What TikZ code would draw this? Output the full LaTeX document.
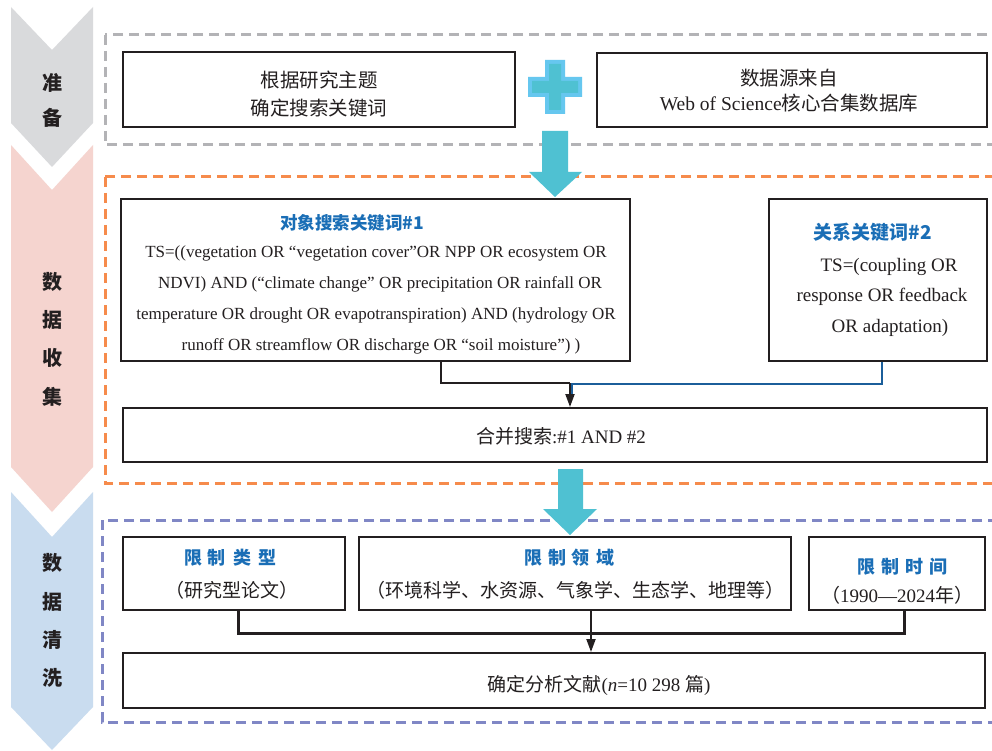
\documentclass[tikz,border=0pt]{standalone}
\usepackage{fontspec}
\setmainfont{Liberation Serif}
\newfontfamily\cjk{Noto Sans CJK SC}
\usetikzlibrary{arrows.meta}
\definecolor{chgray}{HTML}{D9DADC}
\definecolor{chpink}{HTML}{F5D4CF}
\definecolor{chblue}{HTML}{C9DCEF}
\definecolor{frgray}{HTML}{B3B3B6}
\definecolor{frorange}{HTML}{F68B4C}
\definecolor{frpurple}{HTML}{8087C5}
\definecolor{ink}{HTML}{231F20}
\definecolor{ttl}{HTML}{1A6EB6}
\definecolor{teal}{HTML}{4FC1D2}
\definecolor{lblue}{HTML}{66C7EF}
\definecolor{dblue}{HTML}{1B5E9A}
\begin{document}
\begin{tikzpicture}[x=1pt,y=-1pt,
  box/.style={draw=ink,line width=2pt,fill=white,inner sep=0pt},
  frame/.style={line width=3pt,dash pattern=on 10pt off 6pt},
  chlab/.style={font=\cjk\bfseries\fontsize{20}{20}\selectfont,text=ink,inner sep=0pt},
  txt/.style={font=\fontsize{19.5}{28}\selectfont,text=ink,inner sep=0pt,align=center},
  ttlb/.style={font=\cjk\bfseries\fontsize{18}{18}\selectfont,text=ttl,inner sep=0pt},
  conn/.style={draw=ink,line width=2pt},
  bconn/.style={draw=dblue,line width=2.5pt},
  bigarrow/.style={fill=teal}
]
\useasboundingbox (0,0) rectangle (992,751);
\fill[white] (0,0) rectangle (992,751);
% chevrons
\fill[chgray] (11,7) -- (52,50) -- (93,7) -- (93,123) -- (52,167) -- (11,123) -- cycle;
\fill[chpink] (11,145) -- (52,190) -- (93,145) -- (93,467) -- (52,512) -- (11,467) -- cycle;
\fill[chblue] (11,492) -- (52,537) -- (93,492) -- (93,707) -- (52,750) -- (11,707) -- cycle;
\node[chlab] (c1) at (52,83) {准};
\node[chlab] (c2) at (52,118) {备};
\node[chlab] (c3) at (52,282) {数};
\node[chlab] (c4) at (52,320) {据};
\node[chlab] (c5) at (52,358) {收};
\node[chlab] (c6) at (52,397) {集};
\node[chlab] (c7) at (52,563) {数};
\node[chlab] (c8) at (52,602) {据};
\node[chlab] (c9) at (52,640) {清};
\node[chlab] (c10) at (52,678) {洗};
% frames
\draw[frame,frgray] (105,35) rectangle (996,145);
\draw[frame,frorange] (105,177) rectangle (996,483);
\draw[frame,frpurple] (102,520) rectangle (996,722);
% stage 1
\node[box,minimum width=392,minimum height=75] (b1) at (319,89.5) {};
\node[txt] (b1t) at (319,94) {\cjk 根据研究主题\\\cjk 确定搜索关键词};
\node[box,minimum width=390,minimum height=74] (b2) at (792,90) {};
\node[txt,font=\fontsize{19.5}{25}\selectfont] (b2t) at (789,91) {\cjk 数据源来自\\Web of Science{\cjk 核心合集数据库}};
\fill[lblue] (545,60) -- (565,60) -- (565,77) -- (582,77) -- (582,97) -- (565,97) -- (565,114) -- (545,114) -- (545,97) -- (528,97) -- (528,77) -- (545,77) -- cycle;
\fill[teal] (549,64) -- (561,64) -- (561,81) -- (578,81) -- (578,93) -- (561,93) -- (561,110) -- (549,110) -- (549,93) -- (532,93) -- (532,81) -- (549,81) -- cycle;
\fill[bigarrow] (542,131) -- (568,131) -- (568,172) -- (582,172) -- (555,197) -- (529,172) -- (542,172) -- cycle;
% stage 2
\node[box,minimum width=509,minimum height=162] (b3) at (375.5,280) {};
\node[ttlb,font=\cjk\bfseries\fontsize{17.5}{18}\selectfont] (b3h) at (352,223) {对象搜索关键词\#1};
\node[txt,font=\fontsize{17}{31}\selectfont] (b3t) at (376,300) {TS=((vegetation OR “vegetation cover”OR NPP OR ecosystem OR\\\hspace*{8pt}NDVI) AND (“climate change” OR precipitation OR rainfall OR\\temperature OR drought OR evapotranspiration) AND (hydrology OR\\\hspace*{10pt}runoff OR streamflow OR discharge OR “soil moisture”) )};
\node[box,minimum width=218,minimum height=162] (b4) at (878,280) {};
\node[ttlb,font=\cjk\bfseries\fontsize{19}{19}\selectfont] (b4h) at (873,232) {关系关键词\#2};
\node[txt,font=\fontsize{19}{30.5}\selectfont] (b4t) at (882,297) {\hspace*{14pt}TS=(coupling OR\\response OR feedback\\\hspace*{16pt}OR adaptation)};
\node[box,minimum width=864,minimum height=54] (b5) at (555,435) {};
\node[txt,font=\fontsize{19}{19}\selectfont] (b5t) at (561,436) {{\cjk 合并搜索}:\#1 AND \#2};
\coordinate (k3) at (441,383);
\coordinate (k4) at (882,384);
\coordinate (j1) at (570,383);
\coordinate (j2) at (572,384);
\draw[bconn] (b4.south -| k4) -- (k4) -- (j2) -- (572,398);
\draw[conn] (b3.south -| k3) -- (k3) -- (j1);
\draw[conn,-{Triangle[length=13pt,width=9pt]}] (j1) -- (j1 |- b5.north);
\fill[bigarrow] (558,469) -- (583,469) -- (583,509) -- (597,509) -- (570,535) -- (543,509) -- (558,509) -- cycle;
% stage 3
\node[box,minimum width=222,minimum height=73] (l1) at (234,573.5) {};
\node[ttlb] (l1h) at (230,558) {限\hspace{6pt}制\hspace{8pt}类\hspace{6pt}型};
\node[txt,font=\cjk\fontsize{19}{19}\selectfont] (l1t) at (232,590) {（研究型论文）};
\node[box,minimum width=432,minimum height=73] (l2) at (575,573.5) {};
\node[ttlb] (l2h) at (569,558) {限\hspace{6pt}制\hspace{6pt}领\hspace{6pt}域};
\node[txt,font=\cjk\fontsize{19}{19}\selectfont] (l2t) at (575,590) {（环境科学、水资源、气象学、生态学、地理等）};
\node[box,minimum width=176,minimum height=73] (l3) at (897,573.5) {};
\node[ttlb] (l3h) at (902,567) {限\hspace{6pt}制\hspace{6pt}时\hspace{6pt}间};
\node[txt,font=\fontsize{19}{19}\selectfont] (l3t) at (897,595) {{\cjk （}1990—2024{\cjk 年）}};
\node[box,minimum width=862,minimum height=55] (b6) at (554,680.5) {};
\node[txt,font=\fontsize{19}{19}\selectfont] (b6t) at (599,685) {{\cjk 确定分析文献}(\textit{n}=10 298 {\cjk 篇})};
\coordinate (m1) at (238,633);
\coordinate (m3) at (904,633);
\coordinate (m2) at (591,633);
\draw[conn,line width=3pt] (l1.south -| m1) -- (m1) -- (m3) -- (l3.south -| m3);
\draw[conn,-{Triangle[length=13pt,width=9pt]}] (l2.south -| m2) -- (m2 |- b6.north);
\end{tikzpicture}
\end{document}
